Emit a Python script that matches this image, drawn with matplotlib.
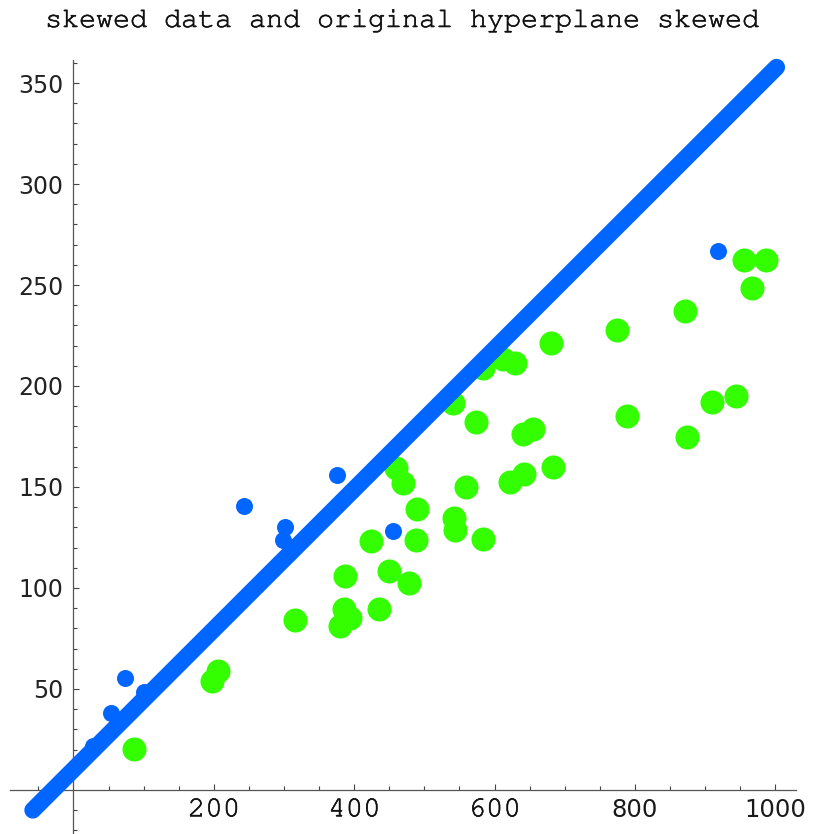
import matplotlib
matplotlib.use("Agg")
import matplotlib.pyplot as plt
import matplotlib.patheffects as pe
import numpy as np

# ---- data ----
blue_x = [28, 54, 73, 100, 243, 302, 299, 375, 455, 919]
blue_y = [22, 38, 55.6, 48.7, 140.7, 130, 124, 156, 128.4, 267]

green_x = [86, 206, 197, 315, 380, 386, 394, 386.5, 436, 423.5, 449.6, 477.7,
           488.5, 489, 459, 469, 542.3, 543.7, 559, 584, 622, 642, 683, 641,
           655.3, 573.6, 541.3, 584, 612.5, 629.2, 680.5, 774, 788.4, 871.5,
           874.3, 910.4, 944.1, 955.5, 986.4, 966.5]
green_y = [20.1, 58.9, 54, 84.2, 81.3, 89.5, 85, 106.1, 89.8, 123.3, 108.4, 102.3,
           123.8, 139.1, 159.3, 151.8, 134.5, 128.7, 149.9, 124.1, 152.6, 156.4, 159.9, 176.2,
           178.7, 182, 191.4, 208.8, 213.2, 211.2, 221.4, 227.9, 185.3, 237.1,
           174.9, 192.2, 195, 262.2, 262.2, 248.7]

line_x = [-58, 1002]
line_y = [-10, 357.8]

x_major = [200, 400, 600, 800, 1000]
x_labels = ["200", "400", "600", "800", "1000"]
y_major = [50, 100, 150, 200, 250, 300, 350]
y_labels = ["50", "100", "150", "200", "250", "300", "350"]

title = "skewed data and original hyperplane skewed"

BLUE = "#0066ff"
GREEN = "#33ff00"
MONO = ["Courier New", "Nimbus Mono PS", "FreeMono", "Liberation Mono"]
thicken = [pe.withStroke(linewidth=0.4, foreground="#111111")]

fig = plt.figure(figsize=(8.14, 8.34), dpi=100)
ax = fig.add_axes([0, 0, 1, 1])
ax.set_xlim(-104.7, 1055.3)
ax.set_ylim(-21.8, 391.1)
ax.patch.set_visible(False)

ax.scatter(blue_x, blue_y, s=150, color=BLUE, linewidths=0, zorder=3)
ax.scatter(green_x, green_y, s=300, color=GREEN, linewidths=0, zorder=3)
ax.plot(line_x, line_y, color=BLUE, linewidth=12.2, solid_capstyle="round", zorder=4)

for s in ["top", "right"]:
    ax.spines[s].set_visible(False)
ax.spines["left"].set_position(("data", 0))
ax.spines["bottom"].set_position(("data", 0))
ax.spines["left"].set_bounds(-21.8, 361.4)
ax.spines["bottom"].set_bounds(-90.5, 1029)
for s in ["left", "bottom"]:
    ax.spines[s].set_color("#555555")
    ax.spines[s].set_linewidth(0.9)

ax.set_xticks(x_major)
ax.set_xticklabels(x_labels)
ax.set_xticks([v for v in range(-50, 1001, 50) if v % 200 != 0], minor=True)
ax.set_yticks(y_major)
ax.set_yticklabels(y_labels)
ax.set_yticks([v for v in range(-20, 361, 10) if v % 50 != 0], minor=True)

ax.tick_params(which="both", direction="in", color="#444444", width=0.8)
ax.tick_params(which="major", length=4.2)
ax.tick_params(which="minor", length=2.7)
ax.tick_params(axis="x", which="major", pad=6, labelcolor="#222222")
ax.tick_params(axis="y", which="major", pad=7, labelcolor="#222222")

for t, lab in zip(ax.xaxis.get_major_ticks(), x_labels):
    if lab in ("800", "1000"):
        t.label1.set_fontfamily("DejaVu Sans")
        t.label1.set_fontsize(17.5)
        t.label1.set_color("#1a1a1a")
    else:
        t.label1.set_fontfamily(MONO)
        t.label1.set_fontsize(21)
        t.label1.set_color("#111111")
        t.label1.set_path_effects(thicken)
for t in ax.yaxis.get_major_ticks():
    t.label1.set_fontfamily("DejaVu Sans")
    t.label1.set_fontsize(17)

fig.text(402 / 814, 1 - 21 / 834, title, ha="center", va="center",
         family=MONO, fontsize=20.4, color="#111111", path_effects=thicken)

fig.savefig("out.png", dpi=100)
